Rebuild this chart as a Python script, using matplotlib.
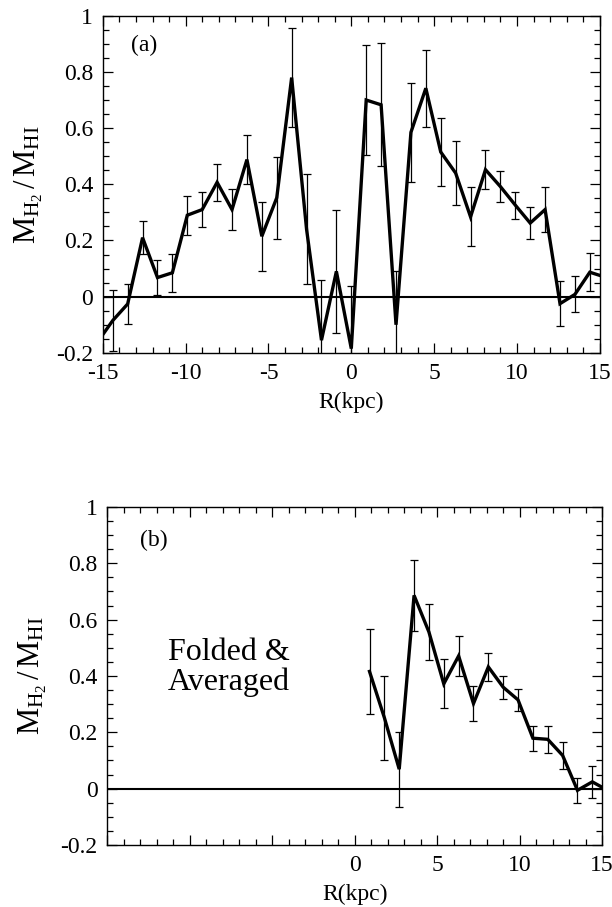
import matplotlib
matplotlib.use("Agg")
import matplotlib.pyplot as plt
from matplotlib.ticker import MultipleLocator
import numpy as np

plt.rcParams['font.family'] = ['Liberation Serif', 'DejaVu Serif']
plt.rcParams['mathtext.fontset'] = 'custom'
plt.rcParams['mathtext.rm'] = 'Liberation Serif'
plt.rcParams['mathtext.it'] = 'Liberation Serif:italic'

# --- panel (a): full profile, both sides of the centre ---
r_a = [-15.3, -14.4, -13.5, -12.6, -11.7, -10.8, -9.9, -9.0, -8.1, -7.2, -6.3,
       -5.4, -4.5, -3.6, -2.7, -1.8, -0.9, 0.0, 0.9, 1.8, 2.7, 3.6, 4.5, 5.4,
       6.3, 7.2, 8.1, 9.0, 9.9, 10.8, 11.7, 12.6, 13.5, 14.4, 15.3]
ratio_a = [-0.16, -0.085, -0.026, 0.21, 0.068, 0.085, 0.29, 0.31, 0.407, 0.31, 0.488,
           0.215, 0.352, 0.78, 0.24, -0.155, 0.09, -0.185, 0.70, 0.683, -0.10, 0.585,
           0.742, 0.515, 0.44, 0.284, 0.452, 0.392, 0.326, 0.262, 0.31, -0.025,
           0.008, 0.087, 0.07]
err_a = [0.10, 0.107, 0.07, 0.058, 0.062, 0.068, 0.07, 0.063, 0.067, 0.074, 0.088,
         0.122, 0.146, 0.176, 0.196, 0.214, 0.22, 0.224, 0.197, 0.219, 0.19, 0.176,
         0.137, 0.121, 0.113, 0.105, 0.069, 0.055, 0.048, 0.057, 0.079, 0.08,
         0.064, 0.067, 0.07]

# --- panel (b): folded & averaged ---
r_b = [0.9, 1.8, 2.7, 3.6, 4.5, 5.4, 6.3, 7.2, 8.1, 9.0, 9.9, 10.8, 11.7, 12.6,
       13.5, 14.4, 15.3]
ratio_b = [0.416, 0.252, 0.069, 0.686, 0.556, 0.372, 0.471, 0.302, 0.432, 0.36,
           0.315, 0.179, 0.175, 0.118, -0.006, 0.024, -0.005]
err_b = [0.15, 0.149, 0.133, 0.125, 0.1, 0.087, 0.071, 0.062, 0.049, 0.041,
         0.038, 0.044, 0.049, 0.047, 0.045, 0.058, 0.05]

b_xticks = [0, 5, 10, 15]

ylabel = r'$\mathrm{M_{H_2}\,/\,M_{HI}}$'


def style_axes(ax):
    ax.set_xlim(-15, 15)
    ax.set_ylim(-0.2, 1.0)
    ax.xaxis.set_major_locator(MultipleLocator(5))
    ax.xaxis.set_minor_locator(MultipleLocator(1))
    ax.yaxis.set_major_locator(MultipleLocator(0.2))
    ax.yaxis.set_minor_locator(MultipleLocator(0.05))
    ax.tick_params(which='both', direction='in', top=True, right=True,
                   labelsize=17, width=0.9, pad=7)
    ax.tick_params(which='major', length=7)
    ax.tick_params(which='minor', length=4)
    ax.yaxis.set_major_formatter(plt.FuncFormatter(lambda v, p: f"{v:g}" if abs(v) > 1e-9 else "0"))
    for s in ax.spines.values():
        s.set_linewidth(1.0)
    ax.axhline(0, color='black', lw=1.5, zorder=1)
    ax.set_xlabel('R(kpc)', fontsize=17, labelpad=6)
    ax.set_ylabel(ylabel, fontsize=22, labelpad=8)


fig = plt.figure(figsize=(6.12, 9.07), dpi=100)
ax_a = fig.add_axes([0.168, 0.611, 0.812, 0.3716])
ax_b = fig.add_axes([0.175, 0.0684, 0.809, 0.3727])

for ax, r, v, e in [(ax_a, r_a, ratio_a, err_a), (ax_b, r_b, ratio_b, err_b)]:
    style_axes(ax)
    ax.errorbar(r, v, yerr=e, fmt='none', ecolor='black', elinewidth=0.9,
                capsize=3.2, capthick=0.9, zorder=2)
    ax.plot(r, v, color='black', lw=2.4, solid_joinstyle='miter', zorder=3)

ax_a.xaxis.set_major_formatter(plt.FuncFormatter(lambda v, p: f"{v:g}"))
ax_b.set_xticks(np.arange(-15, 16, 5))
ax_b.set_xticklabels(['' if t not in b_xticks else str(t) for t in range(-15, 16, 5)])

ax_a.text(-13.3, 0.895, '(a)', fontsize=17, va='center', ha='left')
ax_b.text(-13.0, 0.882, '(b)', fontsize=17, va='center', ha='left')
ax_b.text(-7.6, 0.43, 'Folded &\nAveraged', fontsize=23, ha='center', va='center',
          multialignment='center', linespacing=1.0)

fig.savefig('out.png', dpi=100)
